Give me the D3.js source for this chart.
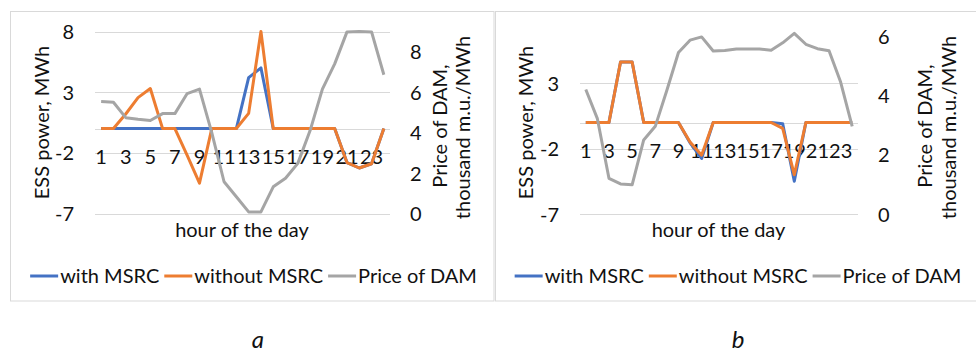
<!DOCTYPE html>
<html>
<head>
<meta charset="utf-8">
<script src="https://cdn.jsdelivr.net/npm/d3@7/dist/d3.min.js"></script>
<style>
  html, body { margin: 0; padding: 0; background: #fff; }
  svg text { font-family: Lato, "Open Sans", sans-serif; fill: #111; }
</style>
</head>
<body>
<svg id="chart" width="976" height="352"></svg>
<script>
// ---------- data ----------
const hours = d3.range(1, 25);
const hourTickLabels = [1, 3, 5, 7, 9, 11, 13, 15, 17, 19, 21, 23];
const seriesNames = ["with MSRC", "without MSRC", "Price of DAM"];

// panel a
const withMSRC_a    = [0,0,0,0,0,0,0,0,0,0,0,0,4.2,5.0,0,0,0,0,0,0,-2.8,-3.25,-2.9,0];
const withoutMSRC_a = [0,0,1.2,2.55,3.3,0,0,-2.2,-4.5,0,0,0,1.25,8.0,0,0,0,0,0,0,-2.8,-3.25,-2.9,0];
const priceDAM_a    = [5.54,5.5,4.74,4.66,4.6,4.94,4.94,5.93,6.15,4.0,1.57,0.83,0.08,0.08,1.32,1.74,2.48,4.1,6.15,7.4,8.98,9.0,8.98,6.86];
const leftTicks_a   = [-7, -2, 3, 8];
const rightTicks_a  = [0, 2, 4, 6, 8];

// panel b
const withMSRC_b    = [0,0,0,4.63,4.63,0,0,0,0,-1.55,-2.75,0,0,0,0,0,0,-0.1,-4.5,0,0,0,0,0];
const withoutMSRC_b = [0,0,0,4.63,4.63,0,0,0,0,-1.5,-2.5,0,0,0,0,0,0,-0.45,-4.0,0,0,0,0,0];
const priceDAM_b    = [4.22,3.23,1.21,1.02,0.99,2.51,2.97,4.19,5.47,5.89,6.0,5.52,5.54,5.59,5.59,5.59,5.55,5.8,6.12,5.75,5.6,5.53,4.47,2.97];
const leftTicks_b   = [-7, -2, 3];
const rightTicks_b  = [0, 2, 4, 6];

// ---------- styles / layout ----------
const colors = ["#4472C4", "#ED7D31", "#A5A5A5"];
const FS = 20;
const fmt = d => String(d);   // plain hyphen minus, no decimals
const svg = d3.select("#chart");

// outer frames
svg.append("rect").attr("x", 10.5).attr("y", 11.5).attr("width", 483.5).attr("height", 289.5)
  .attr("fill", "none").attr("stroke", "#d9d9d9").attr("stroke-width", 1);
svg.append("rect").attr("x", 495.5).attr("y", 11.5).attr("width", 490).attr("height", 289.5)
  .attr("fill", "none").attr("stroke", "#d9d9d9").attr("stroke-width", 1);

function panel(cfg) {
  const g = svg.append("g");
  const x = d3.scaleBand().domain(hours).range([cfg.x0, cfg.x1]).padding(0);
  const yL = d3.scaleLinear().domain(cfg.leftDomain).range([cfg.yBottom, cfg.yTop]);
  const yR = d3.scaleLinear().domain(cfg.rightDomain).range([cfg.yBottom, cfg.yTop]);
  const cx = h => x(h) + x.bandwidth() / 2;

  // gridlines
  g.append("g").selectAll("line").data(cfg.leftTicks).join("line")
    .attr("x1", cfg.x0).attr("x2", cfg.x1)
    .attr("y1", d => Math.round(yL(d)) + 0.5).attr("y2", d => Math.round(yL(d)) + 0.5)
    .attr("stroke", "#d9d9d9").attr("stroke-width", 1);
  // zero axis line
  g.append("line").attr("x1", cfg.x0).attr("x2", cfg.x1)
    .attr("y1", Math.round(yL(0)) + 0.5).attr("y2", Math.round(yL(0)) + 0.5)
    .attr("stroke", "#d9d9d9").attr("stroke-width", 1);

  // left axis
  const la = g.append("g").attr("transform", `translate(${cfg.x0 - 21},0)`)
    .call(d3.axisLeft(yL).tickValues(cfg.leftTicks).tickFormat(fmt).tickSize(0).tickPadding(0));
  la.select(".domain").remove();
  la.selectAll("text").attr("font-size", FS).attr("font-family", "Lato").attr("fill", "#111").attr("dy", "0.35em");

  // right axis
  const ra = g.append("g").attr("transform", `translate(${cfg.x1 + 20},0)`)
    .call(d3.axisRight(yR).tickValues(cfg.rightTicks).tickFormat(fmt).tickSize(0).tickPadding(0));
  ra.select(".domain").remove();
  ra.selectAll("text").attr("font-size", FS).attr("font-family", "Lato").attr("fill", "#111").attr("dy", "0.35em");

  // category axis (labels below zero line)
  const xa = g.append("g").attr("transform", `translate(0,${yL(0) + 28.5})`)
    .call(d3.axisBottom(x).tickValues(hourTickLabels).tickFormat(fmt).tickSize(0).tickPadding(0));
  xa.select(".domain").remove();
  xa.selectAll("text").attr("font-size", FS).attr("font-family", "Lato").attr("fill", "#111")
    .attr("y", 0).attr("dy", "0.35em");

  // lines
  const lineL = d3.line().x((d, i) => cx(hours[i])).y(d => yL(d));
  const lineR = d3.line().x((d, i) => cx(hours[i])).y(d => yR(d));
  const plots = [[cfg.s1, lineL], [cfg.s2, lineL], [cfg.s3, lineR]];
  plots.forEach(([s, ln], i) => {
    g.append("path").datum(s).attr("d", ln).attr("fill", "none")
      .attr("stroke", colors[i]).attr("stroke-width", 3).attr("stroke-linejoin", "round");
  });

  // axis titles
  g.append("text").attr("x", (cfg.x0 + cfg.x1) / 2 - 0.5).attr("y", 230).attr("dy", "0.35em")
    .attr("text-anchor", "middle").attr("font-size", FS).text("hour of the day");
  g.append("text").attr("transform", `translate(${cfg.lt},122.5) rotate(-90)`).attr("dy", "0.35em")
    .attr("text-anchor", "middle").attr("font-size", FS).text("ESS power, MWh");
  g.append("text").attr("transform", `translate(${cfg.rt1},126) rotate(-90)`).attr("dy", "0.35em")
    .attr("text-anchor", "middle").attr("font-size", FS).text("Price of DAM,");
  g.append("text").attr("transform", `translate(${cfg.rt2},127.5) rotate(-90)`).attr("dy", "0.35em")
    .attr("text-anchor", "middle").attr("font-size", FS).text("thousand m.u./MWh");

  // legend
  const lg = g.append("g");
  const items = seriesNames.map((n, i) => {
    const it = lg.append("g");
    it.append("line").attr("x1", 0).attr("x2", 28).attr("y1", 0).attr("y2", 0)
      .attr("stroke", colors[i]).attr("stroke-width", 3);
    const t = it.append("text").attr("x", 30).attr("y", 0).attr("dy", "0.35em")
      .attr("font-size", FS).text(n);
    return { it, w: 30 + t.node().getComputedTextLength() };
  });
  const gap = 5;
  const total = d3.sum(items, d => d.w) + gap * (items.length - 1);
  let pos = cfg.legendCx - total / 2;
  items.forEach(d => { d.it.attr("transform", `translate(${pos},276)`); pos += d.w + gap; });

  // panel caption
  svg.append("text").attr("x", cfg.captionX).attr("y", 340).attr("dy", "0.35em")
    .attr("text-anchor", "middle").attr("font-size", 24).attr("font-style", "italic").text(cfg.caption);
}

panel({
  x0: 95, x1: 390, yTop: 31.5, yBottom: 213.5,
  leftDomain: [-7, 8], rightDomain: [0, 9],
  leftTicks: leftTicks_a, rightTicks: rightTicks_a,
  s1: withMSRC_a, s2: withoutMSRC_a, s3: priceDAM_a,
  lt: 42, rt1: 440, rt2: 463, legendCx: 253.5, captionX: 258, caption: "a"
});
panel({
  x0: 580, x1: 858, yTop: 31, yBottom: 214,
  leftDomain: [-7, 7], rightDomain: [0, 6.2],
  leftTicks: leftTicks_b, rightTicks: rightTicks_b,
  s1: withMSRC_b, s2: withoutMSRC_b, s3: priceDAM_b,
  lt: 526, rt1: 925, rt2: 949, legendCx: 738, captionX: 738, caption: "b"
});
</script>
</body>
</html>
